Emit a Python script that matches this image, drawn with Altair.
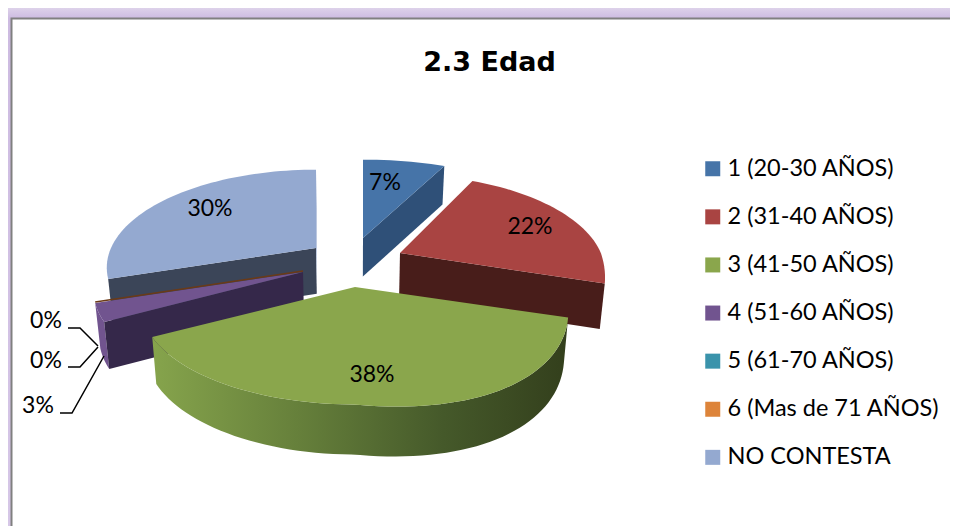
import math
import altair as alt
import pandas as pd

# ---- values
categories = ["1 (20-30 AÑOS)", "2 (31-40 AÑOS)", "3 (41-50 AÑOS)", "4 (51-60 AÑOS)",
              "5 (61-70 AÑOS)", "6 (Mas de 71 AÑOS)", "NO CONTESTA"]
shares = [7, 22, 38, 3, 0, 0, 30]
labels = ["7%", "22%", "38%", "3%", "0%", "0%", "30%"]

# ---- styling and layout
top_colors = ["#4674A8", "#A94442", "#8AA64C", "#71548F", "#3A93AB", "#DD843A", "#94A9D0"]
wall_colors = ["#2F5078", "#481D1A", "#5A7035", "#35284A", "#2B6B7C", "#6B3A17", "#3B4558"]
apex = [(363, 238), (400, 253), (355, 287), (303, 272), (303, 272), (303, 271), (316, 248)]
r_scale = [1.1, 0.98, 1.02, 1.0, 1.0, 1.0, 1.0]
label_pos = [(385, 183), (530, 227), (372, 375), (38, 406), (46, 361), (46, 321), (210, 209)]
leaders = [[(60, 413), (72, 413), (104, 356)],
           [(68, 367), (80, 367), (98, 347)],
           [(68, 328), (80, 328), (98, 346)]]
R, RY, K, CX, TILT = 205.0, 94.0, 0.2, 355.0, 25.0
W, H = 942, 518
FONT = "Lato"

X = alt.X("x:Q", scale=alt.Scale(domain=[8, 950], range=[0, W], nice=False, zero=False), axis=None)
Y = alt.Y("y:Q", scale=alt.Scale(domain=[526, 8], nice=False, zero=False), axis=None)


def rim(i, deg):
    t = math.radians(deg)
    u, v = math.sin(t), -math.cos(t)
    s = 1 / (1 - K * v)
    return (apex[i][0] + R * r_scale[i] * u * s,
            apex[i][1] + RY * v * s + TILT * max(u, 0) * max(v, 0))


def drop(p, deg):
    v = -math.cos(math.radians(deg))
    return p[0] + (CX - p[0]) * 0.02, p[1] + 44 + 6 * v


def poly(points, fill, stroke=None):
    df = pd.DataFrame([{"x": p[0], "y": p[1], "o": n} for n, p in enumerate(points)])
    kw = {"strokeWidth": 0} if stroke is None else {"stroke": stroke, "strokeWidth": 1.6}
    if fill is not None:
        kw["fill"] = fill
    return alt.Chart(df).mark_line(interpolate="linear", **kw).encode(x=X, y=Y, order="o:Q")


# slice angles from the shares
starts = []
acc = 0.0
for s in shares:
    starts.append(acc * 3.6)
    acc += s
ends = [a + s * 3.6 for a, s in zip(starts, shares)]


def arc_pts(i):
    a, b = starts[i], ends[i]
    n = max(2, int((b - a) / 2))
    return [(a + (b - a) * j / n) for j in range(n + 1)]


def top_face(i):
    return [apex[i]] + [rim(i, d) for d in arc_pts(i)] + [apex[i]]


def inner_wall(i, deg):
    r = rim(i, deg)
    return [apex[i], r, drop(r, deg), drop(apex[i], deg), apex[i]]


def outer_wall(i):
    ds = arc_pts(i)
    t = [rim(i, d) for d in ds]
    b = [drop(p, d) for p, d in zip(t, ds)]
    return t + b[::-1] + [t[0]]


# frame
bg = pd.DataFrame({"x": [8], "x2": [950], "y": [8], "y2": [526]})
panel = pd.DataFrame({"x": [11.5], "x2": [970], "y": [18.5], "y2": [540]})
frame_grad = alt.LinearGradient(gradient="linear", x1=0, x2=0, y1=0, y2=1,
                                stops=[alt.GradientStop(offset=0, color="#DDD2EA"),
                                       alt.GradientStop(offset=0.02, color="#CDBBE1"),
                                       alt.GradientStop(offset=1, color="#D6C7E7")])
layers = [
    alt.Chart(bg).mark_rect(fill=frame_grad).encode(x=X, x2="x2:Q", y=Y, y2="y2:Q"),
    alt.Chart(panel).mark_rect(fill="white", stroke="#808080", strokeWidth=2, clip=True).encode(
        x=X, x2="x2:Q", y=Y, y2="y2:Q"),
]

# back slices first, the green one last
layers.append(poly(inner_wall(6, starts[6]), wall_colors[6]))
layers.append(poly(inner_wall(6, 360), "#A9B9D8"))
layers.append(poly(top_face(6), top_colors[6]))
layers.append(poly(inner_wall(0, ends[0]), wall_colors[0]))
layers.append(poly(top_face(0), top_colors[0]))
layers.append(poly(inner_wall(1, ends[1]), wall_colors[1]))
layers.append(poly(top_face(1), top_colors[1]))
layers.append(poly(outer_wall(3), top_colors[3]))
layers.append(poly(inner_wall(3, starts[3]), wall_colors[3]))
layers.append(poly(top_face(3), top_colors[3]))
layers.append(poly([apex[5], rim(5, starts[5])], None, stroke=wall_colors[5]))
green_grad = alt.LinearGradient(gradient="linear", x1=0, x2=1, y1=0, y2=0,
                                stops=[alt.GradientStop(offset=0, color="#86A44C"),
                                       alt.GradientStop(offset=0.35, color="#66803B"),
                                       alt.GradientStop(offset=0.7, color="#45592A"),
                                       alt.GradientStop(offset=1, color="#333F1C")])
layers.append(poly(outer_wall(2), green_grad))
layers.append(poly(top_face(2), top_colors[2]))

# leader lines
for n, pts in enumerate(leaders):
    df = pd.DataFrame([{"x": p[0], "y": p[1], "o": j} for j, p in enumerate(pts)])
    layers.append(alt.Chart(df).mark_line(stroke="black", strokeWidth=1.5).encode(x=X, y=Y, order="o:Q"))

# percentage labels
lab = pd.DataFrame({"x": [p[0] for p in label_pos], "y": [p[1] for p in label_pos], "t": labels})
layers.append(alt.Chart(lab).mark_text(font=FONT, fontSize=23, color="black").encode(x=X, y=Y, text="t:N"))

# legend
legend_df = pd.DataFrame({"cat": categories, "x": [8.0] * 7, "y": [8.0] * 7})
layers.append(
    alt.Chart(legend_df).mark_point(shape="square", filled=True, opacity=0).encode(
        x=X, y=Y,
        fill=alt.Fill("cat:N", sort=categories,
                      scale=alt.Scale(domain=categories, range=top_colors),
                      legend=alt.Legend(orient="none", legendX=693, legendY=149, title=None,
                                        symbolType="square", symbolSize=225, symbolOpacity=1,
                                        symbolStrokeWidth=0, labelFont=FONT, labelFontSize=23.5,
                                        labelColor="black", labelOffset=3, rowPadding=23.1,
                                        labelLimit=300)))
)

chart = alt.layer(*layers).properties(
    width=W, height=H,
    padding=0,
    autosize=alt.AutoSizeParams(type="none"),
    background="white",
    title=alt.TitleParams("2.3 Edad", font="DejaVu Sans", fontSize=27, fontWeight="bold",
                          color="black", anchor="start", dx=418, dy=76),
).configure_view(stroke=None)

chart.save("out.html", embed_options={"renderer": "svg", "actions": False})
